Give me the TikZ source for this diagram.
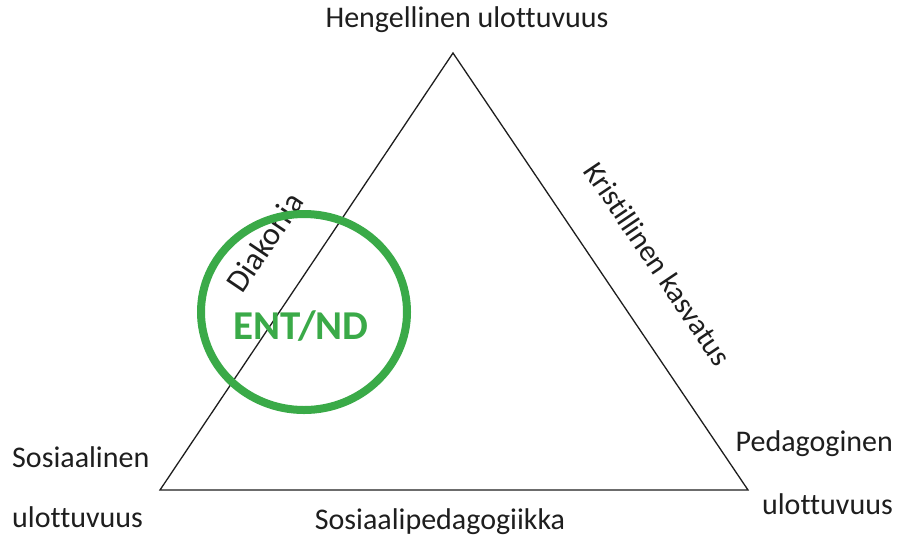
\documentclass[tikz,border=0pt]{standalone}
\usepackage{fontspec}
\setmainfont[Ligatures=NoCommon]{Carlito}
\definecolor{entgreen}{RGB}{58,170,72}
\definecolor{ink}{RGB}{30,30,30}
\begin{document}
\begin{tikzpicture}[x=1pt,y=-1pt,
  lbl/.style={font=\fontsize{30}{32}\selectfont,text=ink,inner sep=0pt},
  edge/.style={draw=ink,line width=1.3pt,line join=miter}]
\useasboundingbox (0,0) rectangle (907,542);
\fill[white] (0,0) rectangle (907,542);
\coordinate (top) at (453,53);
\coordinate (bl) at (160,490);
\coordinate (br) at (748,490);
\draw[edge] (top) -- (bl) -- (br) -- cycle;
\node[lbl] (hen) at (467,20) {Hengellinen ulottuvuus};
\node[lbl,anchor=west] (sos1) at (12,457) {Sosiaalinen};
\node[lbl,anchor=west] (sos2) at (12,517) {ulottuvuus};
\node[lbl] (sped) at (440,522) {Sosiaalipedagogiikka};
\node[lbl,anchor=east] (ped1) at (893,444) {Pedagoginen};
\node[lbl,anchor=east] (ped2) at (893,504) {ulottuvuus};
\node[lbl,rotate=-56] (kris) at (658,264) {Kristillinen kasvatus};
\node[lbl,rotate=56,font=\fontsize{32}{34}\selectfont] (diak) at (265,242) {Diakonia};
\draw[entgreen,line width=8pt] (304,312) ellipse [x radius=103, y radius=98];
\node[font=\bfseries\fontsize{41}{44}\selectfont,text=entgreen,inner sep=0pt] (ent) at (301,326) {ENT/ND};
\end{tikzpicture}
\end{document}
